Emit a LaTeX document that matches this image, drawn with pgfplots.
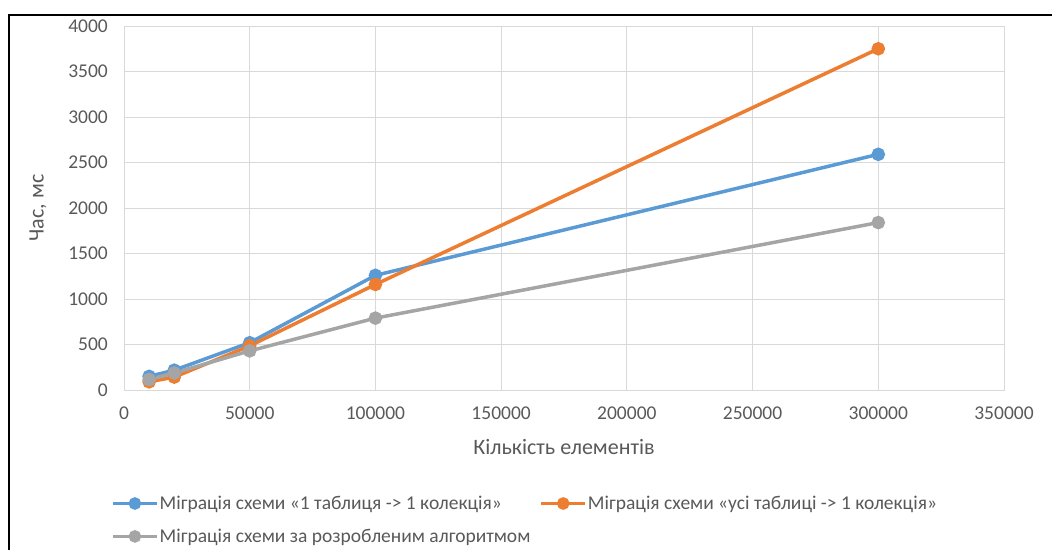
\documentclass[border=0pt]{standalone}
\usepackage{fontspec}
\setmainfont{Carlito}
\usepackage{pgfplots}
\pgfplotsset{compat=1.18}
\definecolor{txt}{HTML}{595959}
\definecolor{gridc}{HTML}{D9D9D9}
\definecolor{sblue}{HTML}{5B9BD5}
\definecolor{sorange}{HTML}{ED7D31}
\definecolor{sgray}{HTML}{A5A5A5}
\newcommand\cf{\fontsize{19.5}{23.4}\selectfont}
\newcommand\tf{\fontsize{22}{26.4}\selectfont}
\begin{document}
\begin{tikzpicture}[x=1pt,y=1pt]
\useasboundingbox (0,0) rectangle (1052,550);
\begin{axis}[
  at={(124pt,160pt)}, anchor=south west,
  scale only axis, width=880pt, height=364pt,
  xmin=0, xmax=350000, ymin=0, ymax=4000,
  xtick={0,50000,...,350000}, ytick={0,500,...,4000},
  scaled ticks=false,
  /pgf/number format/fixed,
  /pgf/number format/set thousands separator={},
  /pgf/number format/assume math mode=true,
  tick style={draw=none},
  grid=major,
  major grid style={gridc, line width=1pt},
  axis line style={gridc, line width=1pt},
  ticklabel style={font=\cf, text=txt, inner sep=0pt},
  yticklabel style={anchor=east, xshift=-16pt},
  xticklabel style={anchor=north, yshift=-16.5pt},
  every axis y label/.style={at={(axis description cs:0,0.5)}, xshift=-86pt, rotate=90, anchor=center},
  every axis x label/.style={at={(axis description cs:0.5,0)}, yshift=-57pt, anchor=center},
  label style={font=\tf, text=txt},
  xlabel={Кількість елементів},
  ylabel={Час, мс},
  legend columns=2,
  legend cell align=left,
  legend style={at={(axis description cs:-0.0148,-0.288)}, anchor=north west,
    draw=none, fill=none, font=\cf, text=txt, inner sep=0pt,
    row sep=16pt,
    /tikz/every even column/.append style={column sep=8pt},
    nodes={inner sep=1pt}},
  legend image code/.code={\draw[#1, mark repeat=2, mark phase=2, mark size=4.5pt]
    plot coordinates {(0pt,0pt) (22pt,0pt) (44pt,0pt)};},
  every axis plot/.append style={line width=3.5pt, mark=*, mark size=5pt,
    mark options={solid}},
]
\addplot[sblue, mark options={fill=sblue, draw=sblue}] coordinates {
  (10000,150) (20000,218) (50000,520) (100000,1260) (300000,2590)};
\addlegendentry{Міграція схеми «1 таблиця -> 1 колекція»}
\addplot[sorange, mark options={fill=sorange, draw=sorange}] coordinates {
  (10000,90) (20000,142) (50000,485) (100000,1160) (300000,3750)};
\addlegendentry{Міграція схеми «усі таблиці -> 1 колекція»}
\addplot[sgray, mark options={fill=sgray, draw=sgray}] coordinates {
  (10000,115) (20000,187) (50000,430) (100000,790) (300000,1840)};
\addlegendentry{Міграція схеми за розробленим алгоритмом}
\end{axis}
% outer frame: left and top edges only
\draw[black, line width=2pt] (9,0) -- (9,535) -- (1052,535);
\end{tikzpicture}
\end{document}
